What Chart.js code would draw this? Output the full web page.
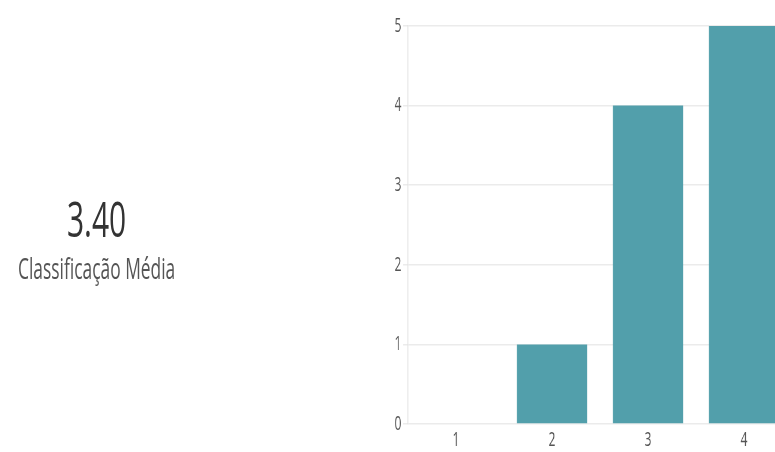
<!DOCTYPE html>
<html>
<head>
<meta charset="utf-8">
<script src="https://cdn.jsdelivr.net/npm/chart.js@4.4.1/dist/chart.umd.min.js"></script>
<style>
  html, body { margin: 0; padding: 0; background: #fff; overflow: hidden; width: 775px; height: 452px; }
  /* the whole panel is drawn wide and squeezed horizontally */
  #panel { position: absolute; left: 0; top: 0; width: 1292px; height: 452px; transform: scaleX(0.6); transform-origin: 0 0; }
  .avg { position: absolute; left: 0; width: 322px; text-align: center; font-family: "Open Sans", sans-serif; line-height: 1; }
  #avgValue { top: 193px; font-size: 50px; color: #333; }
  #avgLabel { top: 253px; font-size: 29px; color: #555; }
  #chartBox { position: absolute; left: 600px; top: 0; width: 880px; height: 452px; }
</style>
</head>
<body>
<div id="panel">
  <div class="avg" id="avgValue"></div>
  <div class="avg" id="avgLabel">Classificação Média</div>
  <div id="chartBox"><canvas id="ratingChart"></canvas></div>
</div>
<script>
// Rating distribution
const ratingLabels = ['1', '2', '3', '4', '5'];
const ratingCounts = [0, 1, 4, 5, 0];
const yTicks = [0, 1, 2, 3, 4, 5];

// Average rating from the counts
let total = 0;
let weighted = 0;
ratingCounts.forEach((c, i) => {
    total += c;
    weighted += c * Number(ratingLabels[i]);
});
document.getElementById('avgValue').textContent = (total > 0 ? weighted / total : 0).toFixed(2);

const ctx = document.getElementById('ratingChart').getContext('2d');
new Chart(ctx, {
    type: 'bar',
    data: {
        labels: ratingLabels,
        datasets: [{
            data: ratingCounts,
            backgroundColor: '#529fab',
            borderWidth: 0,
            barPercentage: 0.73,
            categoryPercentage: 1
        }]
    },
    options: {
        responsive: true,
        maintainAspectRatio: false,
        animation: false,
        layout: {
            padding: { top: 26, bottom: -4, left: 0, right: 0 }
        },
        plugins: {
            legend: { display: false },
            tooltip: { enabled: false }
        },
        scales: {
            x: {
                grid: { display: false, drawTicks: false },
                border: { display: false },
                ticks: {
                    color: '#555',
                    padding: 4,
                    font: { family: 'Open Sans', size: 20 }
                }
            },
            y: {
                min: 0,
                max: yTicks[yTicks.length - 1],
                afterFit: scale => { scale.width = 80; },
                afterBuildTicks: scale => { scale.ticks = yTicks.map(v => ({ value: v })); },
                grid: { color: '#ebebeb', lineWidth: 1.5, tickLength: 8 },
                border: { color: '#e4e4e4', width: 1.5 },
                ticks: {
                    color: '#555',
                    padding: 3,
                    font: { family: 'Open Sans', size: 20 }
                }
            }
        }
    }
});
</script>
</body>
</html>
